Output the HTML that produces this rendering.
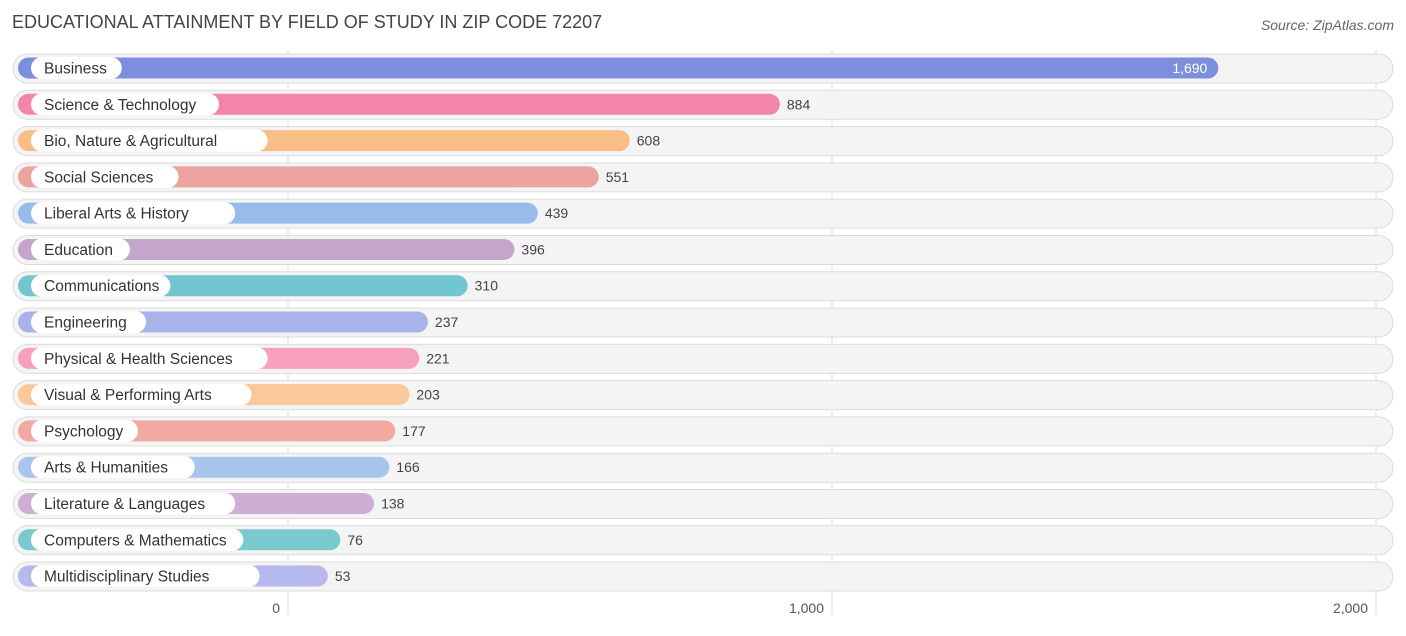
<!DOCTYPE html>
<html><head><meta charset="utf-8"><style>
body{margin:0;background:#fff;font-family:"Liberation Sans",sans-serif;}
svg text{font-family:"Liberation Sans",sans-serif;}
</style></head><body>
<svg id="c" width="1406" height="631">
<text x="12" y="28" font-size="18" fill="#444">EDUCATIONAL ATTAINMENT BY FIELD OF STUDY IN ZIP CODE 72207</text>
<text x="1394" y="30" font-size="14" fill="#666" font-style="italic" text-anchor="end">Source: ZipAtlas.com</text>
<g id="grid"></g><g id="rows"></g><g id="ticks"></g>
</svg>
<script>
const categories=["Business","Science & Technology","Bio, Nature & Agricultural","Social Sciences","Liberal Arts & History","Education","Communications","Engineering","Physical & Health Sciences","Visual & Performing Arts","Psychology","Arts & Humanities","Literature & Languages","Computers & Mathematics","Multidisciplinary Studies"];
const values=[1690,884,608,551,439,396,310,237,221,203,177,166,138,76,53];
const colors=["#7b8fdc","#f285a8","#f9bd85","#eca29d","#97bce9","#c4a5cc","#71c6cf","#aab2ea","#f6a0bd","#f9c99b","#f1a9a2","#a8c6ec","#cdafd3","#79cacf","#b5b9ec"];
const tickValues=[0,1000,2000];
const tickLabels=["0","1,000","2,000"];
const NS="http://www.w3.org/2000/svg";
const x=v=>288+v*0.544;
const y=i=>68+i*36.29;
function mk(tag,attrs,parent,text){const e=document.createElementNS(NS,tag);for(const k in attrs)e.setAttribute(k,attrs[k]);if(text!==undefined)e.textContent=text;parent.appendChild(e);return e;}
const grid=document.getElementById('grid'),rows=document.getElementById('rows'),ticks=document.getElementById('ticks');
tickValues.forEach((t,i)=>{
  const l=mk('line',{x1:x(t),x2:x(t),y1:50,y2:615,stroke:'#ddd','stroke-width':1},grid);
  
  
  const tx=mk('text',{x:x(t)-8,y:613,'font-size':14,fill:'#555','text-anchor':'end'},ticks,tickLabels[i]);
  
  
});
categories.forEach((c,i)=>{
  const cy=y(i);
  const bg=mk('rect',{x:13,y:cy-14,width:1380,height:29,rx:14.5,fill:'#f4f4f4',stroke:'#dcdcdc','stroke-width':1},rows);
  
  
  const bx=18,bw=x(values[i])+11-bx;
  const bar=mk('rect',{x:bx,y:cy-10.5,width:bw,height:21,rx:10.5,fill:colors[i]},rows);
  
  
  const lw=c.length*8.1+26;
  const pill=mk('rect',{x:31,y:cy-11,width:lw,height:22,rx:11,fill:'#fff'},rows);
  
  
  const lt=mk('text',{x:44,y:cy+5.5,'font-size':15.5,fill:'#333'},rows,c);
  
  
  const inside=i===0;
  const vt=mk('text',{x:inside?bx+bw-11:bx+bw+7,y:cy+5,'font-size':14,fill:inside?'#fff':'#444','text-anchor':inside?'end':'start'},rows,values[i].toLocaleString('en-US'));
  
  
});
</script>
</body></html>
